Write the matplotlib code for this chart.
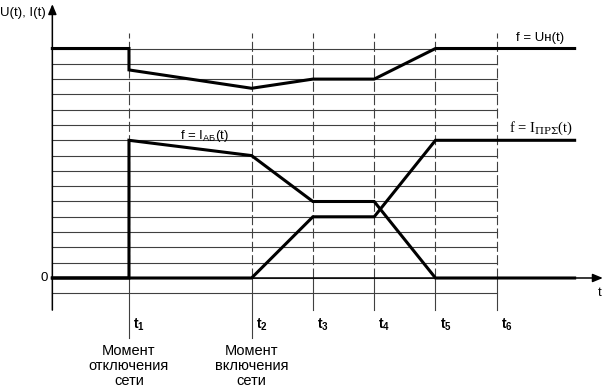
import matplotlib
matplotlib.use('Agg')
import matplotlib.pyplot as plt
import numpy as np

plt.rcParams['font.family'] = ['Liberation Sans', 'DejaVu Sans']
plt.rcParams['mathtext.fontset'] = 'custom'
plt.rcParams['mathtext.rm'] = 'Liberation Sans'
plt.rcParams['mathtext.bf'] = 'Liberation Sans:bold'

# time marks (in grid units, t1..t6) and axis limits
t_marks = [1, 3, 4, 5, 6, 7]
t_names = ['1', '2', '3', '4', '5', '6']
x_axis0 = -0.25
x_end = 8.27

# curves
u_x = [x_axis0, 1, 1, 3, 4, 5, 6, x_end]
u_y = [15, 15, 13.6, 12.4, 13, 13, 15, 15]
iab_x = [x_axis0, 1, 1, 3, 4, 5, 6, x_end]
iab_y = [0, 0, 9, 8, 5, 5, 0, 0]
ipr_x = [x_axis0, 3, 4, 5, 6, x_end]
ipr_y = [0, 0, 4, 4, 9, 9]

grid_levels = np.arange(-1, 16)

fig = plt.figure(figsize=(6.04, 3.88), dpi=100)
ax = fig.add_axes([0, 0, 1, 1])
ax.set_xlim(-1.104, 8.749)
ax.set_ylim(-7.19, 18.17)
ax.axis('off')

# horizontal grid
for g in grid_levels:
    ax.plot([x_axis0, 7], [g, g], color='#404040', lw=0.8, zorder=1)

# vertical time lines
for i, t in enumerate(t_marks):
    ax.plot([t, t], [0, 16.0], color='#404040', lw=0.8, ls=(0, (9, 3)), zorder=1)
    bottom = -3.9 if i < 2 else -2.1
    ax.plot([t, t], [0, bottom], color='#404040', lw=0.8, zorder=1)
    ax.text(t + 0.07, -3.05, r'$\mathbf{t}_{\mathbf{%s}}$' % t_names[i],
            fontsize=10, ha='left', va='center')

# axes with arrows
ax.annotate('', xy=(x_axis0, 17.9), xytext=(x_axis0, -2.1),
            arrowprops=dict(arrowstyle='-|>,head_length=0.6,head_width=0.25',
                            color='black', lw=1.1, shrinkA=0, shrinkB=0))
ax.annotate('', xy=(8.73, 0), xytext=(x_axis0, 0),
            arrowprops=dict(arrowstyle='-|>,head_length=0.6,head_width=0.25',
                            color='black', lw=1.1, shrinkA=0, shrinkB=0))

# curves
ax.plot(u_x, u_y, color='black', lw=2.2, solid_joinstyle='miter', zorder=3)
ax.plot(iab_x, iab_y, color='black', lw=2.2, solid_joinstyle='miter', zorder=3)
ax.plot(ipr_x, ipr_y, color='black', lw=2.2, solid_joinstyle='miter', zorder=3)

# labels
ax.text(-1.10, 17.35, 'U(t), I(t)', fontsize=9.5, ha='left', va='center')
ax.text(-0.33, 0, '0', fontsize=9.5, ha='right', va='center')
ax.text(8.68, -1.0, 't', fontsize=9.5, ha='center', va='center')
ax.text(7.70, 15.7, 'f = Uн(t)', fontsize=9.5, ha='center', va='center')
ax.text(1.83, 9.3, r'f = I$_{\mathrm{АБ}}$(t)', fontsize=9.5, ha='left', va='center')
ax.text(7.2, 9.8, r'f = I$_{\mathrm{ПРΣ}}$(t)', fontsize=10.5, ha='left', va='center',
        family='Liberation Serif', math_fontfamily='dejavuserif')

ax.text(1, -5.75, 'Момент\nотключения\nсети', fontsize=10.5, ha='center', va='center',
        linespacing=1.1)
ax.text(3, -5.75, 'Момент\nвключения\nсети', fontsize=10.5, ha='center', va='center',
        linespacing=1.1)

plt.savefig('out.png', dpi=100)
